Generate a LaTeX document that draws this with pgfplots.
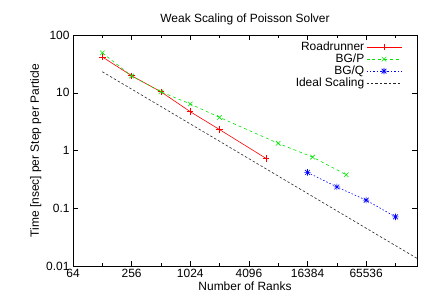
\documentclass[border=0pt]{standalone}
\usepackage{fontspec}
\setmainfont{Liberation Sans}
\usepackage{pgfplots}
\pgfplotsset{compat=1.18}
\pgfdeclareplotmark{gpstar}{%
  \pgfpathmoveto{\pgfqpoint{-\pgfplotmarksize}{0pt}}\pgfpathlineto{\pgfqpoint{\pgfplotmarksize}{0pt}}%
  \pgfpathmoveto{\pgfqpoint{0pt}{-\pgfplotmarksize}}\pgfpathlineto{\pgfqpoint{0pt}{\pgfplotmarksize}}%
  \pgfpathmoveto{\pgfqpoint{-0.75\pgfplotmarksize}{-0.75\pgfplotmarksize}}\pgfpathlineto{\pgfqpoint{0.75\pgfplotmarksize}{0.75\pgfplotmarksize}}%
  \pgfpathmoveto{\pgfqpoint{-0.75\pgfplotmarksize}{0.75\pgfplotmarksize}}\pgfpathlineto{\pgfqpoint{0.75\pgfplotmarksize}{-0.75\pgfplotmarksize}}%
  \pgfusepathqstroke}
\definecolor{gpred}{RGB}{255,0,0}
\definecolor{gpgreen}{RGB}{0,230,0}
\definecolor{gpblue}{RGB}{0,0,255}
\begin{document}
\begin{tikzpicture}[font=\fontsize{12}{14}\selectfont]
\useasboundingbox (0,0) rectangle (436bp,305bp);
\begin{axis}[
  at={(73bp,39bp)}, anchor=south west,
  scale only axis, width=344bp, height=231bp,
  xmode=log, ymode=log, log basis x=2, log basis y=10,
  xmin=64, xmax=218000, ymin=0.01, ymax=100,
  xtick={64,256,1024,4096,16384,65536},
  xticklabels={64,256,1024,4096,16384,65536},
  minor x tick num=0,
  extra x ticks={128,512,2048,8192,32768,131072},
  extra x tick labels={},
  extra x tick style={major tick length=3bp},
  ytick={0.01,0.1,1,10,100},
  yticklabels={0.01,0.1,1,10,100},
  tick align=inside,
  major tick length=5bp, minor tick length=3bp,
  every tick/.style={black, line width=0.5pt},
  axis line style={line width=0.6pt},
  tick label style={font=\fontsize{12}{14}\selectfont},
  label style={font=\fontsize{12}{14}\selectfont},
  title={Weak Scaling of Poisson Solver},
  title style={font=\fontsize{12}{14}\selectfont, yshift=1bp},
  xlabel={Number of Ranks},
  ylabel={Time [nsec] per Step per Particle},
  xlabel style={yshift=3bp},
  ylabel style={yshift=-2bp},
  legend style={draw=none, fill=none, at={(1,1)}, anchor=north east, xshift=-12bp, yshift=-3bp, row sep=-2.2bp, font=\fontsize{12}{14}\selectfont},
  legend cell align=right,
  legend plot pos=right,
  legend image code/.code={\draw[mark repeat=2,mark phase=2] plot coordinates {(0bp,0bp)(17.5bp,0bp)(35bp,0bp)};},
  mark size=3.2bp,
]
\addplot[gpred, line width=0.6pt, mark=+, mark options={solid}] coordinates {
  (128,41.7) (256,19.7) (512,10.4) (1024,4.7) (2048,2.3) (6144,0.73)
};
\addlegendentry{Roadrunner}
\addplot[gpgreen, line width=0.6pt, dashed, mark=x, mark options={solid}] coordinates {
  (128,49) (256,19.5) (512,10.4) (1024,6.4) (2048,3.74) (8192,1.33) (18432,0.77) (40960,0.38)
};
\addlegendentry{BG/P}
\addplot[gpblue, line width=0.6pt, dash pattern=on 1.5pt off 2pt, mark=gpstar, mark options={solid}] coordinates {
  (16384,0.417) (32768,0.234) (65536,0.138) (131072,0.071)
};
\addlegendentry{BG/Q}
\addplot[black!85, line width=0.6pt, dash pattern=on 2.5pt off 2pt] coordinates {
  (128,23.1) (262144,0.01128)
};
\addlegendentry{Ideal Scaling}
\end{axis}
\end{tikzpicture}
\end{document}
